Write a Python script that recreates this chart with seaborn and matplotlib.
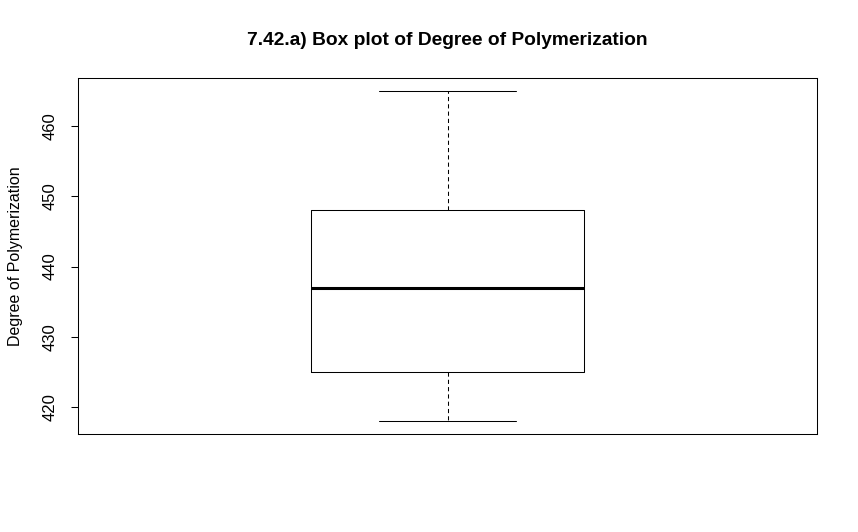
import matplotlib
matplotlib.use("Agg")
import matplotlib.pyplot as plt
import seaborn as sns
import pandas as pd

# Degree of polymerization observations
polymerization = [418, 421, 421, 422, 425, 427, 431, 434, 437,
                  439, 446, 447, 448, 453, 454, 463, 465]
y_ticks = [420, 430, 440, 450, 460]
title = "7.42.a) Box plot of Degree of Polymerization"
y_label = "Degree of Polymerization"

sns.set_theme(style="white")
plt.rcParams['font.family'] = ['Liberation Sans', 'DejaVu Sans']
plt.rcParams['text.color'] = 'black'
plt.rcParams['axes.labelcolor'] = 'black'

df = pd.DataFrame({"value": polymerization})

fig = plt.figure(figsize=(8.58, 5.32), dpi=100)
ax = fig.add_axes([78/858, 1-434/532, (817-78)/858, (434-78)/532])

lw = 0.75
sns.boxplot(data=df, y="value", ax=ax, width=0.4, whis=1.5,
            fill=False, linecolor="black", linewidth=lw,
            whiskerprops=dict(linestyle=(0, (4, 3)), linewidth=lw, color="black"),
            capprops=dict(linewidth=lw, color="black"),
            medianprops=dict(linewidth=2.2, color="black"),
            boxprops=dict(linewidth=lw, color="black"))

ax.set_xlim(-0.54, 0.54)
ax.set_ylim(416.12, 466.88)
ax.set_yticks(y_ticks)
ax.set_yticklabels([str(t) for t in y_ticks], rotation=90, va="center", fontsize=12)
ax.set_xticks([])
ax.set_xlabel("")
ax.set_ylabel(y_label, fontsize=11.5, labelpad=14, color="black")
ax.tick_params(axis="y", left=True, length=5, width=lw, color="black", pad=9.5, labelcolor="black")
for s in ax.spines.values():
    s.set_visible(True)
    s.set_color("black")
    s.set_linewidth(lw)
ax.set_title(title, fontsize=13.8, fontweight="bold", pad=24, color="black")

fig.savefig("out.png", dpi=100, facecolor="white")
